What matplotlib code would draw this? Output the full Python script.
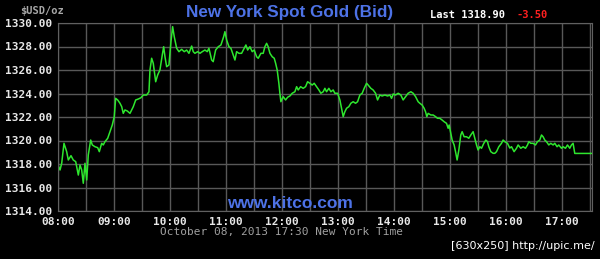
import matplotlib
matplotlib.use("Agg")
import matplotlib.pyplot as plt
from matplotlib.ticker import MultipleLocator, FuncFormatter

# time in decimal hours (New York), bid price in USD/oz
hours = [8.000, 8.036, 8.066, 8.107, 8.155, 8.184, 8.232, 8.273, 8.316, 8.363,
         8.393, 8.423, 8.452, 8.482, 8.513, 8.541, 8.584, 8.613, 8.661, 8.709,
         8.738, 8.780, 8.809, 8.839, 8.888, 8.929, 8.970, 9.005, 9.030, 9.066,
         9.107, 9.138, 9.166, 9.196, 9.238, 9.286, 9.345, 9.388, 9.434, 9.482,
         9.523, 9.584, 9.625, 9.643, 9.673, 9.702, 9.745, 9.780, 9.821, 9.863,
         9.888, 9.911, 9.941, 9.982, 10.018, 10.048, 10.077, 10.120, 10.161, 10.209,
         10.255, 10.298, 10.339, 10.388, 10.416, 10.446, 10.495, 10.536, 10.577, 10.625,
         10.666, 10.696, 10.745, 10.773, 10.816, 10.863, 10.911, 10.959, 10.982, 11.013,
         11.054, 11.089, 11.130, 11.161, 11.191, 11.232, 11.280, 11.327, 11.357, 11.388,
         11.429, 11.470, 11.505, 11.548, 11.577, 11.625, 11.666, 11.696, 11.727, 11.755,
         11.786, 11.827, 11.863, 11.888, 11.916, 11.946, 11.964, 11.982, 12.023, 12.066,
         12.102, 12.143, 12.184, 12.232, 12.263, 12.291, 12.334, 12.380, 12.423, 12.459,
         12.500, 12.541, 12.577, 12.620, 12.661, 12.696, 12.738, 12.768, 12.798, 12.839,
         12.875, 12.916, 12.946, 12.995, 13.036, 13.066, 13.095, 13.125, 13.155, 13.196,
         13.232, 13.273, 13.316, 13.352, 13.393, 13.434, 13.470, 13.513, 13.541, 13.589,
         13.630, 13.673, 13.709, 13.750, 13.791, 13.839, 13.888, 13.929, 13.959, 13.988,
         14.030, 14.077, 14.125, 14.166, 14.209, 14.255, 14.304, 14.345, 14.388, 14.434,
         14.464, 14.505, 14.541, 14.566, 14.589, 14.613, 14.661, 14.702, 14.745, 14.780,
         14.821, 14.863, 14.898, 14.941, 14.970, 14.988, 15.018, 15.041, 15.077, 15.102,
         15.130, 15.161, 15.196, 15.220, 15.255, 15.298, 15.339, 15.375, 15.416, 15.446,
         15.477, 15.505, 15.536, 15.566, 15.607, 15.643, 15.673, 15.696, 15.732, 15.773,
         15.804, 15.834, 15.875, 15.923, 15.952, 15.982, 16.030, 16.071, 16.102, 16.148,
         16.191, 16.220, 16.268, 16.309, 16.352, 16.388, 16.411, 16.446, 16.488, 16.530,
         16.566, 16.607, 16.638, 16.666, 16.696, 16.727, 16.768, 16.804, 16.845, 16.875,
         16.916, 16.946, 16.995, 17.023, 17.066, 17.102, 17.143, 17.173, 17.202, 17.232,
         17.530]
prices = [1317.91, 1317.49, 1318.06, 1319.76, 1319.05, 1318.34, 1318.71, 1318.34, 1318.20, 1317.06,
          1317.91, 1317.49, 1316.36, 1318.06, 1316.64, 1318.77, 1320.04, 1319.62, 1319.47, 1319.39,
          1319.05, 1319.76, 1319.62, 1319.90, 1320.19, 1320.75, 1321.32, 1322.03, 1323.59, 1323.45,
          1323.17, 1322.88, 1322.31, 1322.60, 1322.51, 1322.31, 1322.88, 1323.45, 1323.53, 1323.64,
          1323.87, 1323.87, 1324.15, 1326.00, 1327.00, 1326.57, 1325.00, 1325.57, 1326.00, 1327.28,
          1327.98, 1327.13, 1326.28, 1326.43, 1328.41, 1329.69, 1328.83, 1327.85, 1327.56, 1327.76,
          1327.56, 1327.70, 1327.42, 1328.04, 1327.56, 1327.42, 1327.56, 1327.42, 1327.56, 1327.70,
          1327.56, 1327.85, 1326.85, 1326.71, 1327.70, 1327.98, 1328.13, 1328.83, 1329.26, 1328.55,
          1327.98, 1327.85, 1327.28, 1326.85, 1327.56, 1327.42, 1327.42, 1327.85, 1328.13, 1327.70,
          1327.98, 1327.56, 1327.70, 1327.13, 1327.00, 1327.42, 1327.42, 1327.98, 1328.27, 1327.98,
          1327.42, 1327.13, 1327.00, 1326.57, 1326.00, 1324.87, 1324.02, 1323.30, 1323.73, 1323.45,
          1323.68, 1323.79, 1324.02, 1324.15, 1324.58, 1324.30, 1324.58, 1324.44, 1324.58, 1325.00,
          1324.87, 1324.72, 1324.87, 1324.58, 1324.30, 1324.02, 1324.15, 1324.44, 1324.15, 1324.44,
          1324.15, 1324.30, 1324.02, 1324.02, 1323.45, 1322.74, 1322.03, 1322.45, 1322.74, 1322.88,
          1323.17, 1323.30, 1323.17, 1323.30, 1323.87, 1324.02, 1324.44, 1324.87, 1324.72, 1324.44,
          1324.30, 1324.02, 1323.45, 1323.87, 1323.79, 1323.87, 1323.79, 1323.87, 1323.59, 1323.96,
          1323.87, 1324.02, 1323.87, 1323.45, 1323.73, 1324.02, 1324.15, 1324.02, 1323.73, 1323.30,
          1323.17, 1323.02, 1322.74, 1322.45, 1322.03, 1322.31, 1322.17, 1322.17, 1322.03, 1321.89,
          1321.89, 1321.74, 1321.60, 1321.46, 1321.04, 1321.32, 1320.61, 1320.04, 1319.62, 1319.05,
          1318.34, 1319.19, 1320.47, 1320.75, 1320.32, 1320.32, 1320.19, 1320.47, 1320.75, 1320.19,
          1319.62, 1319.19, 1319.47, 1319.34, 1319.76, 1320.04, 1319.90, 1319.47, 1319.05, 1318.91,
          1318.91, 1319.05, 1319.47, 1319.76, 1320.04, 1319.90, 1319.76, 1319.36, 1319.47, 1319.05,
          1319.34, 1319.62, 1319.34, 1319.47, 1319.34, 1319.62, 1319.90, 1319.76, 1319.76, 1319.62,
          1319.90, 1320.04, 1320.47, 1320.32, 1320.04, 1319.90, 1319.62, 1319.76, 1319.62, 1319.76,
          1319.47, 1319.62, 1319.34, 1319.47, 1319.34, 1319.62, 1319.34, 1319.62, 1319.76, 1318.90,
          1318.90]

last_price = "1318.90"
change = "-3.50"

fig = plt.figure(figsize=(6.0, 2.59), dpi=100, facecolor="black")
ax = fig.add_axes([58 / 600, 1 - 211 / 259, 534 / 600, 188 / 259])
ax.set_facecolor("black")

ax.plot(hours, prices, color="#2ee62e", lw=1.1)

ax.set_xlim(8.0, 17.54)
ax.set_ylim(1314, 1330)
ax.xaxis.set_major_locator(MultipleLocator(1))
ax.xaxis.set_minor_locator(MultipleLocator(0.5))
ax.yaxis.set_major_locator(MultipleLocator(2))
ax.xaxis.set_major_formatter(FuncFormatter(lambda v, p: "%02d:00" % int(round(v))))
ax.yaxis.set_major_formatter(FuncFormatter(lambda v, p: "%.2f" % v))
ax.grid(True, which="both", color="#585858", lw=1)
ax.set_axisbelow(True)
ax.tick_params(which="both", length=0, colors="#e8e8e8", labelsize=8, pad=4)
for lab in ax.get_xticklabels() + ax.get_yticklabels():
    lab.set_family("DejaVu Sans Mono")
    lab.set_weight("bold")
for s in ax.spines.values():
    s.set_color("#606060")

fig.text(20 / 600, 1 - 11 / 259, "$USD/oz", color="#a8a8a8", fontsize=7.5,
         family="DejaVu Sans Mono", weight="bold", va="center", ha="left")
fig.text(290 / 600, 1 - 13 / 259, "New York Spot Gold (Bid)", color="#4d72e6",
         fontsize=12.3, family="Liberation Sans", weight="bold", ha="center", va="center")
fig.text(430 / 600, 1 - 15 / 259, "Last " + last_price, color="white", fontsize=7.5,
         family="DejaVu Sans Mono", weight="bold", ha="left", va="center")
fig.text(517 / 600, 1 - 15 / 259, change, color="#ff2020", fontsize=7.5,
         family="DejaVu Sans Mono", weight="bold", ha="left", va="center")
fig.text(290 / 600, 1 - 204 / 259, "www.kitco.com", color="#4d72e6",
         fontsize=12.5, family="Liberation Sans", weight="bold", ha="center", va="center")
fig.text(281 / 600, 1 - 232 / 259, "October 08, 2013 17:30 New York Time",
         color="#a0a0a0", fontsize=8, family="DejaVu Sans Mono", ha="center", va="center")
fig.text(595 / 600, 1 - 246 / 259, "[630x250] http://upic.me/", color="white",
         fontsize=8, family="DejaVu Sans", ha="right", va="center")

fig.savefig("out.png", dpi=100, facecolor="black")
